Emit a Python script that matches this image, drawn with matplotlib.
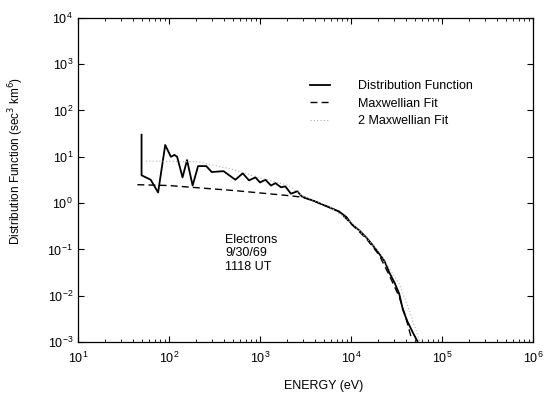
import matplotlib
matplotlib.use("Agg")
import matplotlib.pyplot as plt
from matplotlib.ticker import LogLocator, NullLocator

plt.rcParams['font.family'] = ['Liberation Sans', 'DejaVu Sans']

# Distribution function (solid)
dist_energy = [50, 50, 63, 76, 91, 105, 115, 123, 141, 158, 182, 209, 257, 295, 398,
               537, 646, 759, 891, 1000, 1150, 1320, 1480, 1700, 1900, 2190, 2570, 2880,
               3980, 5620, 7410, 8910, 10200, 12300, 14800, 17000, 20400, 23400, 26300,
               30200, 33900, 37200, 41700, 47900, 53700]
dist_f = [30, 4.0, 3.2, 1.7, 18, 10, 11, 10, 3.6, 8.5, 2.4, 6.3, 6.3, 4.7, 4.9,
          3.2, 4.4, 3.1, 3.6, 2.8, 3.2, 2.4, 2.7, 2.2, 2.3, 1.6, 1.8, 1.4,
          1.1, 0.83, 0.66, 0.50, 0.35, 0.26, 0.18, 0.13, 0.081, 0.056, 0.032,
          0.019, 0.011, 0.005, 0.0028, 0.0016, 0.00105]

# Maxwellian fit (dashed)
maxw_energy = [45, 100, 178, 537, 1000, 2090, 2880, 3980, 5620, 7410, 10200, 14800,
               20400, 26300, 33900, 39800, 45700]
maxw_f = [2.5, 2.4, 2.2, 1.86, 1.66, 1.45, 1.35, 1.1, 0.83, 0.65, 0.35, 0.17,
          0.076, 0.028, 0.0095, 0.0035, 0.0013]

# 2 Maxwellian fit (dotted, faint)
maxw2_energy = [56, 209, 490, 1000, 2090, 2880, 5620, 10200, 20400, 26300, 33900,
                42700, 52500, 57500]
maxw2_f = [8.1, 7.8, 5.4, 3.5, 2.4, 1.45, 0.87, 0.38, 0.089, 0.040, 0.018,
           0.0056, 0.00166, 0.001]

fig = plt.figure(figsize=(5.45, 3.96), dpi=100)
ax = fig.add_axes([0.143, 0.136, 0.835, 0.819])

ax.plot(dist_energy, dist_f, color='black', linewidth=1.3, label='Distribution Function')
ax.plot(maxw_energy, maxw_f, color='black', linewidth=1.0, linestyle=(0, (5, 3)),
        label='Maxwellian Fit')
ax.plot(maxw2_energy, maxw2_f, color='#b0b0b0', linewidth=0.8, linestyle=(0, (1, 2)),
        label='2 Maxwellian Fit')

ax.set_xscale('log')
ax.set_yscale('log')
ax.set_xlim(1e1, 1e6)
ax.set_ylim(1e-3, 1e4)
ax.xaxis.set_major_locator(LogLocator(base=10, numticks=10))
ax.yaxis.set_major_locator(LogLocator(base=10, numticks=10))
ax.yaxis.set_minor_locator(NullLocator())
ax.tick_params(which='both', direction='in', top=True, right=True, labelsize=9)
ax.tick_params(which='major', length=4, width=0.8)
ax.tick_params(which='minor', length=2.5, width=0.6)
ax.tick_params(axis='x', pad=6)
for s in ax.spines.values():
    s.set_linewidth(0.9)

ax.set_xlabel('ENERGY (eV)', fontsize=9)
ax.xaxis.set_label_coords(0.54, -0.117)
ax.set_ylabel('Distribution Function (sec$^3$ km$^6$)', fontsize=8.5)
ax.yaxis.set_label_coords(-0.114, 0.56)

ax.text(0.323, 0.333, 'Electrons\n9/30/69\n1118 UT', transform=ax.transAxes,
        fontsize=9, va='top', ha='left', linespacing=1.15)

ax.legend(loc='upper left', bbox_to_anchor=(310 / 545, 1 - 80 / 396),
          bbox_transform=fig.transFigure, frameon=False, fontsize=9,
          handlelength=1.6, handletextpad=2.2, labelspacing=0.45, borderpad=0,
          borderaxespad=0)

fig.savefig('out.png', dpi=100)
